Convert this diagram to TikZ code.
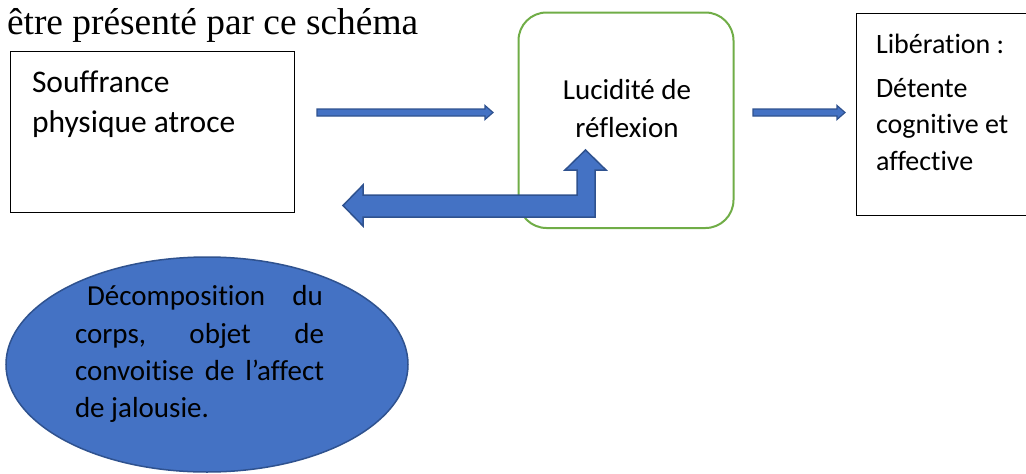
\documentclass[tikz,border=0pt]{standalone}
\usepackage{fontspec}
\newfontfamily\titlefont{Liberation Serif}
\newfontfamily\calfont[Ligatures=CommonOff]{Carlito}
\definecolor{blockblue}{HTML}{4472C4}
\definecolor{blockedge}{HTML}{2F528F}
\definecolor{boxgreen}{HTML}{70AD47}
\tikzset{
  txt/.style={anchor=base west, inner sep=0pt, outer sep=0pt},
  ctxt/.style={anchor=base, inner sep=0pt, outer sep=0pt},
  plainbox/.style={draw=black, line width=1pt},
  blockarrow/.style={fill=blockblue, draw=blockedge, line width=1.5pt, line join=miter},
}
\begin{document}
\begin{tikzpicture}[x=1pt,y=-1pt]
\useasboundingbox (0,0) rectangle (1026,474);
% title
\node[txt] (title) at (7,34) {\titlefont\fontsize{37.4}{44}\selectfont être présenté par ce schéma};
% box 1
\draw[plainbox] (10.5,51.5) rectangle (294,212);
\node[txt] (s1) at (32,92) {\calfont\fontsize{31.5}{38}\selectfont Souffrance};
\node[txt] (s2) at (32,132) {\calfont\fontsize{31.5}{38}\selectfont physique atroce};
% green rounded box
\draw[boxgreen, line width=2pt, rounded corners=28pt] (518.5,12.5) rectangle (733.5,228);
\node[ctxt] (l1) at (627,99) {\calfont\fontsize{29}{36}\selectfont Lucidité de};
\node[ctxt] (l2) at (627,137) {\calfont\fontsize{29}{36}\selectfont réflexion};
% box 3
\draw[plainbox] (856.5,13.5) rectangle (1030,215);
\node[txt] (r1) at (876,53) {\calfont\fontsize{28}{35}\selectfont Libération :};
\node[txt] (r2) at (876,97) {\calfont\fontsize{28}{35}\selectfont Détente};
\node[txt] (r3) at (876,133) {\calfont\fontsize{28}{35}\selectfont cognitive et};
\node[txt] (r4) at (876,170) {\calfont\fontsize{28}{35}\selectfont affective};
% thin arrows
\filldraw[blockarrow, line width=1.2pt] (317,109) -- (485,109) -- (485,105.5) -- (493,112.5) -- (485,119.5) -- (485,116) -- (317,116) -- cycle;
\filldraw[blockarrow, line width=1.2pt] (753,109) -- (837,109) -- (837,105.5) -- (845,112.5) -- (837,119.5) -- (837,116) -- (753,116) -- cycle;
% bent arrow
\filldraw[blockarrow] (343,205.5) -- (363,185) -- (363,195) -- (577,195) -- (577,170) -- (565,170) -- (585.5,150) -- (606,170) -- (595,170) -- (595,217) -- (363,217) -- (363,226) -- cycle;
% ellipse
\filldraw[fill=blockblue, draw=blockedge, line width=1.5pt] (207,364.5) ellipse [x radius=201, y radius=107.5];
\node[txt] (e1) at (87,305) {\calfont\fontsize{29}{37}\selectfont\makebox[236pt][l]{Décomposition\hfill du}};
\node[txt] (e2) at (75,343) {\calfont\fontsize{29}{37}\selectfont\makebox[249pt][l]{corps,\hfill objet\hfill de}};
\node[txt] (e3) at (75,380) {\calfont\fontsize{29}{37}\selectfont\makebox[249pt][l]{convoitise\hfill de\hfill l’affect}};
\node[txt] (e4) at (75,417) {\calfont\fontsize{29}{37}\selectfont de jalousie.};
\end{tikzpicture}
\end{document}
